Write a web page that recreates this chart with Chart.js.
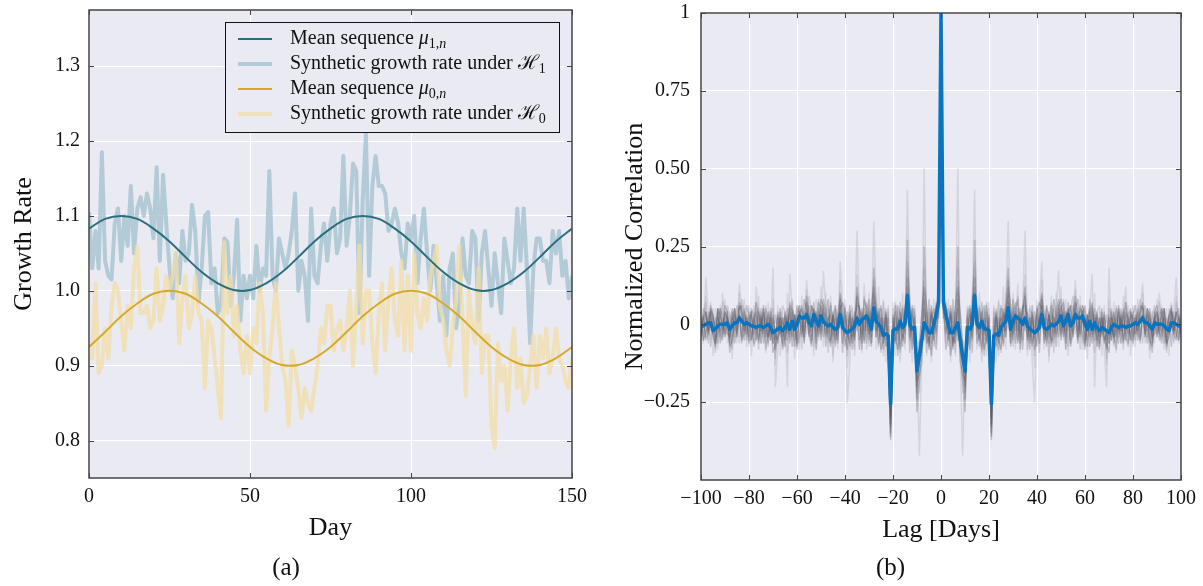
<!DOCTYPE html>
<html>
<head>
<meta charset="utf-8">
<script src="https://cdn.jsdelivr.net/npm/chart.js@4.4.1/dist/chart.umd.min.js"></script>
<style>
  body { margin: 0; background: #fff; }
  .panel { position: absolute; top: 0; }
</style>
</head>
<body>
<div class="panel" style="left:0;width:600px;height:586px"><canvas id="growthChart" width="600" height="586"></canvas></div>
<div class="panel" style="left:600px;width:603px;height:586px"><canvas id="corrChart" width="603" height="586"></canvas></div>
<script>
// ---- panel (a): growth rate ----
const dayTicks = [0, 50, 100, 150];
const growthTicks = [0.8, 0.9, 1.0, 1.1, 1.2, 1.3];

// mean sequences, read every 5 days
const meanDays = [0, 5, 10, 15, 20, 25, 30, 35, 40, 45, 50, 55, 60, 65, 70, 75, 80, 85, 90, 95, 100, 105, 110, 115, 120, 125, 130, 135, 140, 145, 150];
const mu1 = [1.083, 1.096, 1.100, 1.096, 1.083, 1.066, 1.045, 1.025, 1.010, 1.001, 1.001, 1.010, 1.025, 1.045, 1.066, 1.083, 1.096, 1.100, 1.096, 1.083, 1.066, 1.045, 1.025, 1.010, 1.001, 1.001, 1.010, 1.025, 1.045, 1.066, 1.083];
const mu0 = [0.925, 0.945, 0.966, 0.983, 0.996, 1.000, 0.996, 0.983, 0.966, 0.945, 0.925, 0.910, 0.901, 0.901, 0.910, 0.925, 0.945, 0.966, 0.983, 0.996, 1.000, 0.996, 0.983, 0.966, 0.945, 0.925, 0.910, 0.901, 0.901, 0.910, 0.925];

// synthetic growth rates, day 0..150
const synH1 = [
  1.105, 1.03, 1.08, 1.03, 1.185, 1.04, 1.02, 1.015, 1.09, 1.11,
  1.04, 1.10, 1.06, 1.14, 1.05, 1.11, 1.125, 1.10, 1.13, 1.11,
  1.07, 1.165, 1.04, 1.155, 1.09, 1.03, 0.99, 1.05, 1.01, 1.08,
  1.04, 1.05, 1.115, 1.08, 0.985, 1.03, 1.10, 1.105, 1.01, 1.03,
  0.97, 0.98, 1.07, 1.065, 0.98, 1.02, 1.095, 0.96, 1.02, 0.99,
  1.02, 0.99, 1.06, 1.00, 1.03, 1.02, 1.16, 1.02, 1.00, 1.07,
  1.05, 1.03, 1.05, 1.08, 1.13, 1.00, 1.04, 1.02, 0.96, 1.11,
  1.02, 1.01, 1.06, 1.09, 1.04, 1.09, 1.11, 1.05, 1.07, 1.18,
  1.06, 1.10, 1.17, 1.16, 0.97, 1.12, 1.21, 1.02, 1.14, 1.18,
  1.14, 1.14, 1.13, 1.08, 1.09, 1.11, 1.09, 1.05, 1.03, 1.09,
  1.07, 1.10, 1.01, 1.07, 1.11, 1.05, 1.00, 1.06, 1.01, 0.96,
  1.02, 0.94, 1.03, 1.05, 0.95, 0.98, 1.07, 1.02, 1.01, 1.08,
  1.07, 0.96, 1.05, 1.08, 1.03, 0.98, 1.05, 1.01, 0.97, 1.07,
  1.04, 1.01, 1.03, 1.11, 1.04, 1.11, 1.03, 0.93, 1.03, 1.07,
  1.07, 1.04, 1.04, 1.01, 1.08, 1.05, 1.08, 1.02, 1.04, 0.99,
  1.02
];
const synH0 = [
  0.91, 0.91, 1.01, 0.89, 0.90, 0.95, 0.91, 0.98, 1.01, 1.00,
  0.96, 0.92, 0.98, 0.95, 1.03, 1.06, 0.97, 0.97, 0.98, 0.95,
  0.96, 1.03, 0.96, 0.98, 1.02, 1.00, 1.02, 1.05, 0.93, 0.99,
  1.02, 0.95, 0.97, 1.02, 0.97, 0.96, 0.87, 0.96, 0.95, 0.91,
  0.87, 0.83, 1.065, 0.97, 1.02, 0.94, 0.98, 0.92, 0.89, 0.94,
  0.89, 0.95, 0.93, 1.01, 0.97, 0.84, 0.91, 0.95, 1.01, 0.95,
  0.90, 0.88, 0.82, 0.92, 0.90, 0.87, 0.83, 0.87, 0.85, 0.84,
  0.87, 0.90, 0.95, 0.93, 0.98, 0.98, 0.92, 0.95, 0.96, 0.92,
  0.95, 1.00, 0.90, 0.98, 1.06, 0.93, 1.00, 1.00, 0.93, 0.89,
  0.97, 1.01, 0.92, 0.99, 1.03, 0.96, 0.94, 1.04, 0.92, 1.02,
  0.92, 1.05, 0.97, 0.95, 0.99, 0.96, 1.02, 1.04, 1.06, 0.98,
  0.96, 0.92, 0.90, 0.95, 0.99, 1.06, 0.96, 0.86, 1.00, 0.95,
  0.93, 1.03, 0.89, 0.94, 0.94, 0.82, 0.79, 0.93, 0.88, 0.90,
  0.84, 0.91, 0.95, 0.87, 0.91, 0.85, 0.86, 0.90, 0.94, 0.87,
  0.94, 0.91, 0.95, 0.89, 0.91, 0.95, 0.91, 0.90, 0.88, 0.87,
  0.91
];

// ---- panel (b): normalized correlation ----
const lagTicks = [-100, -80, -60, -40, -20, 0, 20, 40, 60, 80, 100];
const lagTickLabels = ['\u2212100', '\u221280', '\u221260', '\u221240', '\u221220', '0', '20', '40', '60', '80', '100'];
const corrTicks = [-0.25, 0, 0.25, 0.5, 0.75, 1];
const corrTickLabels = ['\u22120.25', '0', '0.25', '0.50', '0.75', '1'];

// values at lag 0..100; a correlation at lag -k equals the one at +k
const meanCorr = [
  1.0, 0.07, 0.03, 0.0, -0.027, -0.027, -0.01, 0.005, -0.05, -0.10,
  -0.15, -0.01, -0.015, 0.0, 0.093, 0.0, -0.01, 0.01, -0.015, -0.015,
  -0.02, -0.256, -0.037, -0.03, -0.035, -0.01, 0.0, 0.01, 0.053, -0.016,
  0.01, 0.027, 0.02, 0.015, 0.0, 0.02, -0.005, -0.016, -0.02, -0.027,
  -0.02, -0.01, 0.032, -0.01, -0.016, -0.01, 0.0, -0.005, 0.0, 0.01,
  0.027, -0.005, 0.01, 0.032, -0.005, 0.005, 0.032, 0.02, 0.02, 0.027,
  0.0, -0.016, 0.01, -0.016, 0.005, -0.01, -0.02, -0.01, -0.015, -0.021,
  -0.027, -0.01, 0.0, -0.005, -0.01, -0.005, -0.005, -0.01, -0.005, -0.005,
  0.0, 0.005, 0.0, 0.01, 0.021, 0.005, 0.005, -0.005, -0.016, 0.005,
  0.0, 0.0, 0.0, -0.005, -0.015, -0.02, 0.005, 0.005, 0.0, -0.005,
  -0.005
];
const runCorr1 = [
  1, 0.10, -0.05, 0.02, -0.08, 0.04, -0.02, 0.50, -0.10, -0.42,
  -0.12, 0.03, -0.06, 0.05, 0.43, -0.05, 0.02, -0.12, 0.04, -0.03,
  0.05, -0.25, 0.06, -0.04, -0.10, 0.03, -0.02, 0.06, 0.33, -0.03,
  0.05, -0.08, 0.02, -0.05, 0.04, 0.30, -0.02, 0.03, -0.12, -0.25,
  0.02, 0.06, 0.20, -0.04, 0.03, -0.10, 0.02, -0.06, 0.05, 0.17,
  -0.03, 0.02, -0.08, 0.04, -0.05, 0.03, 0.14, -0.02, 0.04, -0.06,
  0.02, -0.04, 0.05, 0.16, -0.20, 0.03, -0.05, 0.02, -0.08, -0.20,
  0.18, -0.03, 0.04, -0.06, 0.02, -0.04, 0.03, 0.12, -0.05, 0.02,
  -0.07, 0.03, -0.03, 0.04, 0.13, -0.04, 0.02, -0.06, 0.03, -0.03,
  0.02, 0.10, -0.05, 0.03, -0.08, 0.02, -0.02, 0.04, 0.15, -0.03,
  0.02
];
const runCorr2 = [
  1, 0.12, 0.04, -0.05, 0.06, -0.08, 0.03, 0.25, -0.06, -0.18,
  -0.28, -0.04, 0.05, -0.02, 0.27, 0.02, -0.07, 0.04, -0.03, 0.06,
  -0.05, -0.37, -0.08, 0.03, -0.06, 0.05, -0.02, 0.07, 0.18, -0.04,
  0.08, -0.02, 0.05, -0.06, 0.03, 0.12, -0.05, 0.02, -0.07, 0.04,
  -0.03, 0.05, 0.10, -0.06, 0.02, -0.04, 0.06, -0.03, 0.04, 0.08,
  -0.02, 0.05, -0.06, 0.07, -0.02, 0.03, 0.09, -0.04, 0.06, 0.02,
  -0.05, 0.03, -0.07, 0.05, -0.02, 0.04, -0.06, 0.02, -0.04, -0.08,
  0.03, -0.05, 0.04, -0.02, 0.05, -0.06, 0.02, 0.07, -0.03, 0.04,
  -0.05, 0.03, -0.02, 0.06, 0.05, -0.04, 0.03, -0.05, -0.07, 0.02,
  0.04, -0.03, 0.05, -0.02, -0.06, 0.03, 0.05, -0.02, 0.04, -0.05,
  0.02
];
const runCorr3 = [
  1, 0.05, 0.06, 0.02, -0.10, -0.04, -0.06, 0.08, -0.09, -0.12,
  -0.20, 0.02, -0.08, 0.04, 0.15, -0.03, 0.05, -0.02, -0.08, -0.04,
  0.03, -0.30, -0.05, -0.07, 0.02, -0.04, 0.05, -0.02, 0.10, -0.06,
  0.03, 0.07, -0.02, 0.05, -0.05, 0.06, 0.02, -0.06, 0.03, -0.08,
  -0.04, 0.02, 0.08, 0.03, -0.05, 0.04, -0.07, 0.02, -0.03, 0.06,
  0.08, -0.04, 0.03, 0.05, -0.06, 0.02, 0.07, 0.04, -0.03, 0.06,
  0.02, -0.07, 0.04, -0.03, 0.05, -0.05, 0.02, -0.04, 0.03, -0.06,
  -0.09, 0.02, -0.04, 0.05, -0.03, 0.02, -0.06, 0.04, 0.02, -0.05,
  0.03, 0.06, -0.02, 0.04, 0.07, -0.03, 0.05, 0.02, -0.06, 0.04,
  -0.03, 0.02, -0.04, 0.05, -0.07, -0.03, 0.04, 0.02, -0.04, 0.03,
  -0.02
];
const runCorr4 = [
  1, 0.08, -0.02, 0.05, 0.02, -0.06, 0.04, -0.05, -0.02, -0.08,
  -0.14, -0.07, 0.03, -0.05, 0.06, 0.04, -0.04, 0.07, -0.05, 0.02,
  -0.08, -0.33, 0.02, -0.05, -0.02, 0.06, 0.03, -0.04, 0.07, 0.03,
  -0.05, 0.05, 0.08, -0.03, 0.06, -0.02, 0.04, -0.05, 0.02, -0.04,
  0.05, -0.06, 0.04, 0.02, -0.07, 0.03, -0.02, 0.05, -0.04, 0.02,
  0.06, -0.03, 0.04, 0.02, -0.05, 0.06, 0.03, -0.02, 0.05, 0.04,
  -0.06, 0.02, 0.05, -0.04, 0.03, -0.07, 0.02, -0.03, 0.04, -0.05,
  -0.03, 0.04, -0.06, 0.02, -0.04, 0.05, -0.02, 0.03, -0.06, 0.04,
  0.02, -0.03, 0.05, -0.04, 0.03, 0.06, -0.02, 0.04, -0.05, 0.02,
  -0.04, 0.03, 0.05, -0.06, 0.02, -0.03, 0.04, -0.02, 0.03, 0.05,
  -0.03
];
const runCorr5 = [
  1, 0.15, -0.06, 0.08, -0.12, 0.05, -0.10, 0.18, -0.04, -0.22,
  -0.10, 0.06, -0.12, 0.08, 0.20, -0.08, 0.10, -0.06, 0.04, -0.10,
  0.07, -0.28, 0.05, -0.12, 0.08, -0.05, 0.12, -0.08, 0.15, -0.06,
  0.10, -0.04, 0.13, -0.09, 0.05, 0.16, -0.10, 0.06, -0.05, -0.14,
  0.08, -0.06, 0.14, -0.08, 0.06, -0.12, 0.09, -0.04, 0.10, -0.07,
  0.12, -0.05, 0.08, -0.10, 0.06, -0.04, 0.11, -0.06, 0.09, -0.08,
  0.05, -0.11, 0.07, -0.05, 0.10, -0.07, 0.04, -0.10, 0.06, -0.13,
  0.08, -0.04, 0.07, -0.09, 0.05, -0.06, 0.09, -0.05, 0.06, -0.10,
  0.04, -0.07, 0.08, -0.05, 0.10, -0.06, 0.05, -0.11, 0.04, -0.06,
  0.08, -0.04, 0.06, -0.08, 0.05, -0.10, 0.07, -0.05, 0.09, -0.06,
  0.03
];
const runCorr6 = [
  1, 0.02, 0.07, -0.03, 0.04, -0.02, 0.06, 0.12, 0.03, -0.06,
  -0.24, 0.03, 0.06, -0.04, 0.10, 0.05, -0.02, 0.03, 0.06, -0.05,
  0.02, -0.35, -0.03, 0.04, -0.08, 0.02, -0.06, 0.04, 0.12, 0.06,
  -0.03, 0.04, -0.06, 0.02, 0.05, 0.09, 0.03, -0.04, 0.06, -0.02,
  0.04, 0.07, 0.05, -0.03, 0.06, 0.02, -0.05, 0.08, 0.03, -0.04,
  0.05, 0.07, -0.02, 0.04, 0.06, -0.03, 0.05, 0.08, -0.04, 0.03,
  0.06, -0.02, 0.04, 0.07, -0.05, 0.03, -0.04, 0.05, -0.06, -0.03,
  0.02, -0.05, 0.03, -0.04, 0.06, -0.02, 0.04, -0.05, 0.03, 0.05,
  -0.04, 0.02, -0.05, 0.03, 0.06, 0.02, -0.04, 0.05, -0.03, 0.04,
  0.06, -0.02, 0.03, 0.05, -0.04, 0.02, 0.06, -0.03, 0.04, 0.02,
  -0.04
];
const runCorr7 = [
  1, 0.06, -0.08, -0.04, 0.03, -0.07, -0.02, 0.05, -0.12, -0.16,
  -0.18, -0.08, -0.03, 0.02, 0.12, -0.06, -0.03, -0.08, 0.02, -0.06,
  -0.04, -0.32, -0.10, 0.02, -0.05, -0.08, 0.03, -0.04, 0.05, -0.07,
  -0.02, 0.03, -0.05, 0.04, -0.08, 0.03, -0.04, 0.02, -0.06, -0.03,
  -0.07, 0.02, 0.06, -0.05, -0.02, 0.03, -0.06, -0.04, 0.02, 0.04,
  -0.05, 0.03, -0.04, 0.02, -0.07, -0.03, 0.04, -0.05, 0.02, -0.04,
  -0.07, 0.03, -0.02, -0.06, 0.02, -0.04, -0.08, 0.02, -0.05, -0.03,
  -0.06, 0.02, -0.04, -0.02, -0.06, 0.03, -0.05, -0.02, 0.02, -0.04,
  -0.06, 0.02, -0.03, -0.05, 0.03, -0.02, -0.06, 0.02, -0.04, -0.03,
  0.03, -0.05, -0.02, 0.02, -0.06, -0.04, 0.02, -0.03, -0.05, 0.02,
  -0.03
];
const runCorr8 = [
  1, 0.09, 0.03, -0.07, 0.05, 0.01, -0.09, 0.14, 0.04, -0.10,
  -0.16, 0.05, -0.03, 0.08, 0.18, -0.02, 0.06, -0.09, 0.03, 0.07,
  -0.06, -0.27, 0.04, -0.02, 0.07, -0.09, 0.04, 0.02, 0.14, 0.05,
  -0.07, 0.03, 0.09, -0.04, 0.02, 0.10, -0.08, 0.05, 0.03, -0.10,
  0.06, -0.02, 0.09, 0.04, -0.06, 0.02, 0.07, -0.09, 0.03, 0.06,
  -0.04, 0.08, 0.02, -0.07, 0.05, 0.09, -0.03, 0.04, -0.08, 0.06,
  0.03, -0.05, 0.08, 0.02, -0.09, 0.04, 0.06, -0.03, 0.02, -0.11,
  0.05, 0.03, -0.07, 0.06, -0.02, 0.04, -0.08, 0.07, 0.02, -0.05,
  0.06, -0.03, 0.04, 0.08, -0.06, 0.02, 0.05, -0.08, 0.03, 0.06,
  -0.04, 0.07, -0.02, 0.04, -0.09, 0.05, 0.02, -0.06, 0.07, 0.03,
  -0.05
];
const runCorr9 = [
  1, 0.04, -0.03, 0.02, -0.06, 0.08, -0.04, 0.10, -0.07, -0.05,
  -0.22, -0.02, 0.04, -0.09, 0.08, 0.03, -0.05, 0.02, -0.10, 0.04,
  -0.03, -0.36, -0.06, 0.05, -0.03, 0.02, -0.07, 0.05, 0.09, -0.02,
  0.04, -0.06, 0.03, -0.08, 0.05, 0.07, -0.03, -0.08, 0.04, -0.05,
  0.03, -0.09, 0.06, -0.02, 0.05, -0.06, 0.03, 0.02, -0.07, 0.05,
  -0.03, 0.04, -0.08, 0.03, 0.06, -0.04, 0.05, -0.06, 0.02, 0.04,
  -0.08, 0.03, -0.04, 0.06, -0.03, 0.02, -0.07, 0.04, -0.02, 0.03,
  -0.06, 0.05, -0.03, -0.08, 0.04, -0.02, 0.05, -0.04, -0.07, 0.03,
  0.02, -0.05, 0.04, -0.06, 0.03, -0.02, 0.05, -0.04, -0.09, 0.02,
  0.04, -0.03, -0.06, 0.05, -0.02, 0.03, -0.07, 0.04, -0.03, -0.05,
  0.02
];
const runs = [runCorr1, runCorr2, runCorr3, runCorr4, runCorr5, runCorr6, runCorr7, runCorr8, runCorr9];
const runColors = ['rgba(140,130,150,0.22)', 'rgba(70,70,80,0.28)', 'rgba(70,70,80,0.28)', 'rgba(80,80,90,0.26)',
  'rgba(140,130,150,0.2)', 'rgba(70,70,80,0.28)', 'rgba(80,80,90,0.28)', 'rgba(110,105,120,0.22)', 'rgba(80,80,90,0.26)'];

const serif = '"Liberation Serif", "Times New Roman", "DejaVu Serif", serif';
Chart.defaults.font.family = serif;
Chart.defaults.color = '#111';

const days = Array.from({ length: synH1.length }, (_, i) => i);
const lags = Array.from({ length: 201 }, (_, i) => i - 100);
const pts = (xs, ys) => xs.map((x, i) => ({ x: x, y: ys[i] }));
const bothSides = half => lags.map(l => half[Math.abs(l)]);

const plotBg = {
  id: 'plotBg',
  beforeDraw(chart) {
    const { ctx, chartArea: a } = chart;
    ctx.save();
    ctx.fillStyle = '#eaeaf2';
    ctx.fillRect(a.left, a.top, a.right - a.left, a.bottom - a.top);
    ctx.restore();
  }
};

// box around the plot with short inward ticks on all four sides
const frameTicks = {
  id: 'frameTicks',
  afterDatasetsDraw(chart) {
    const { ctx, chartArea: a, scales: { x, y } } = chart;
    ctx.save();
    ctx.strokeStyle = '#444';
    ctx.lineWidth = 1;
    ctx.beginPath();
    x.ticks.forEach((t, i) => {
      const px = Math.round(x.getPixelForTick(i)) + 0.5;
      ctx.moveTo(px, a.bottom); ctx.lineTo(px, a.bottom - 5);
      ctx.moveTo(px, a.top); ctx.lineTo(px, a.top + 5);
    });
    y.ticks.forEach((t, i) => {
      const py = Math.round(y.getPixelForTick(i)) + 0.5;
      ctx.moveTo(a.left, py); ctx.lineTo(a.left + 5, py);
      ctx.moveTo(a.right, py); ctx.lineTo(a.right - 5, py);
    });
    ctx.stroke();
    ctx.lineWidth = 1.5;
    ctx.strokeRect(a.left, a.top, a.right - a.left, a.bottom - a.top);
    ctx.restore();
  }
};

// legend with math symbols: [text, style] where style: '' plain, 'i' italic, 's' subscript, 'si' italic subscript
const legendRows = [
  { color: '#2b6f7f', width: 2, parts: [['Mean sequence ', ''], ['\u03bc', 'i'], ['1,', 's'], ['n', 'si']] },
  { color: 'rgba(165,195,207,0.8)', width: 4, parts: [['Synthetic growth rate under ', ''], ['\u210b', ''], ['1', 's']] },
  { color: '#d4aa2e', width: 2, parts: [['Mean sequence ', ''], ['\u03bc', 'i'], ['0,', 's'], ['n', 'si']] },
  { color: 'rgba(242,222,168,0.75)', width: 4, parts: [['Synthetic growth rate under ', ''], ['\u210b', ''], ['0', 's']] }
];
const growthLegend = {
  id: 'growthLegend',
  afterDraw(chart) {
    const ctx = chart.ctx;
    ctx.save();
    ctx.fillStyle = '#eaeaf2';
    ctx.fillRect(225, 22, 334, 110);
    ctx.strokeStyle = '#111';
    ctx.lineWidth = 1;
    ctx.strokeRect(225.5, 22.5, 334, 110);
    legendRows.forEach((row, k) => {
      const yy = 39 + k * 25;
      ctx.strokeStyle = row.color;
      ctx.lineWidth = row.width;
      ctx.beginPath(); ctx.moveTo(238, yy); ctx.lineTo(272, yy); ctx.stroke();
      let xx = 290;
      ctx.fillStyle = '#111';
      ctx.textBaseline = 'middle';
      row.parts.forEach(([txt, st]) => {
        const sub = st.indexOf('s') >= 0;
        const ital = st.indexOf('i') >= 0;
        ctx.font = (ital ? 'italic ' : '') + (sub ? '14px ' : '20px ') + serif;
        ctx.fillText(txt, xx, yy + (sub ? 5 : 0));
        xx += ctx.measureText(txt).width;
      });
    });
    ctx.restore();
  }
};

const axisTitleFont = { size: 26, weight: 'normal' };
const tickFont = { size: 20 };

new Chart(document.getElementById('growthChart'), {
  type: 'line',
  data: {
    datasets: [
      { label: 'Mean sequence mu1', data: pts(meanDays, mu1), borderColor: '#2b6f7f', borderWidth: 2, tension: 0.4, order: 0 },
      { label: 'Mean sequence mu0', data: pts(meanDays, mu0), borderColor: '#d4aa2e', borderWidth: 2, tension: 0.4, order: 0 },
      { label: 'Synthetic H0', data: pts(days, synH0), borderColor: 'rgba(242,222,168,0.75)', borderWidth: 4, order: 1 },
      { label: 'Synthetic H1', data: pts(days, synH1), borderColor: 'rgba(165,195,207,0.8)', borderWidth: 4, order: 2 }
    ]
  },
  options: {
    responsive: false,
    animation: false,
    events: [],
    layout: { padding: { top: 10, right: 28, left: 0, bottom: 0 } },
    elements: { point: { radius: 0 }, line: { borderJoinStyle: 'round' } },
    plugins: {
      legend: { display: false },
      tooltip: { enabled: false },
      title: { display: true, position: 'bottom', text: '(a)', font: { size: 25, weight: 'normal' }, color: '#111', padding: { top: 7, bottom: 3 } }
    },
    scales: {
      x: {
        type: 'linear', min: 0, max: 150,
        afterBuildTicks: s => { s.ticks = dayTicks.map(v => ({ value: v })); },
        ticks: { font: tickFont, color: '#111', padding: 7, maxRotation: 0 },
        grid: { color: '#ffffff', lineWidth: 1, drawTicks: false },
        border: { display: false },
        title: { display: true, text: 'Day', font: axisTitleFont, color: '#111', padding: { top: 0, bottom: 2 } },
        afterFit: s => { s.height = 68; s.paddingLeft = 0; s.paddingRight = 0; }
      },
      y: {
        type: 'linear', min: 0.75, max: 1.375,
        afterBuildTicks: s => { s.ticks = growthTicks.map(v => ({ value: v })); },
        ticks: { font: tickFont, color: '#111', padding: 9, callback: v => v.toFixed(1) },
        grid: { color: '#ffffff', lineWidth: 1, drawTicks: false },
        border: { display: false },
        title: { display: true, text: 'Growth Rate', font: axisTitleFont, color: '#111', padding: { top: 9, bottom: 0 } },
        afterFit: s => { s.width = 89; s.paddingTop = 0; s.paddingBottom = 0; }
      }
    }
  },
  plugins: [plotBg, frameTicks, growthLegend]
});

const corrSets = runs.map((r, k) => ({
  label: 'run ' + (k + 1), data: pts(lags, bothSides(r)), borderColor: runColors[k], borderWidth: 1.5, order: 1
}));
corrSets.push({ label: 'mean', data: pts(lags, bothSides(meanCorr)), borderColor: '#0a74bf', borderWidth: 3.5, order: 0 });

new Chart(document.getElementById('corrChart'), {
  type: 'line',
  data: { datasets: corrSets },
  options: {
    responsive: false,
    animation: false,
    events: [],
    layout: { padding: { top: 13, right: 22, left: 0, bottom: 0 } },
    elements: { point: { radius: 0 }, line: { borderJoinStyle: 'round' } },
    plugins: {
      legend: { display: false },
      tooltip: { enabled: false },
      title: { display: true, position: 'bottom', text: '(b)', font: { size: 25, weight: 'normal' }, color: '#111', padding: { top: 7, bottom: 3 } }
    },
    scales: {
      x: {
        type: 'linear', min: -100, max: 100,
        afterBuildTicks: s => { s.ticks = lagTicks.map(v => ({ value: v })); },
        ticks: { font: tickFont, color: '#111', padding: 7, maxRotation: 0, callback: (v, i) => lagTickLabels[i] },
        grid: { color: '#ffffff', lineWidth: 1, drawTicks: false },
        border: { display: false },
        title: { display: true, text: 'Lag [Days]', font: axisTitleFont, color: '#111', padding: { top: 0, bottom: 0 } },
        afterFit: s => { s.height = 66; s.paddingLeft = 0; s.paddingRight = 0; }
      },
      y: {
        type: 'linear', min: -0.5, max: 1,
        afterBuildTicks: s => { s.ticks = corrTicks.map(v => ({ value: v })); },
        ticks: { font: tickFont, color: '#111', padding: 11, callback: (v, i) => corrTickLabels[i] },
        grid: { color: '#ffffff', lineWidth: 1, drawTicks: false },
        border: { display: false },
        title: { display: true, text: 'Normalized Correlation', font: axisTitleFont, color: '#111', padding: { top: 20, bottom: 0 } },
        afterFit: s => { s.width = 101; s.paddingTop = 0; s.paddingBottom = 0; }
      }
    }
  },
  plugins: [plotBg, frameTicks]
});
</script>
</body>
</html>
